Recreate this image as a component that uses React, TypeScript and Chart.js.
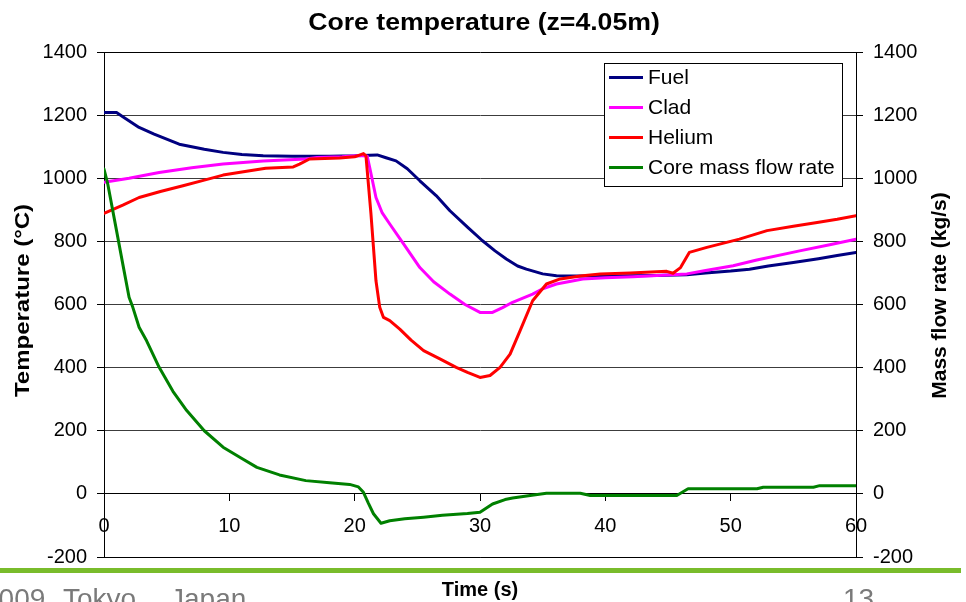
import React, { useEffect, useRef } from 'react';
import { Chart, registerables } from 'chart.js';

Chart.register(...registerables);

const FONT = '"Liberation Sans", Arial, Helvetica, sans-serif';

// ---- Data (time in s, temperature in °C, mass flow in kg/s) ----
const fuelTime = [0, 1, 1.5, 2.8, 4, 6, 8, 9.5, 11, 12.7, 15, 18, 20, 21.8, 22.5, 23.3, 24.2, 25.2, 26.5, 27.6, 29, 30.2, 31.2, 32.1, 33, 33.7, 35, 36.1, 38, 40, 42, 44, 46.5, 48, 50, 51.5, 53, 55, 57, 58.5, 60];
const fuelTemp = [1208, 1208, 1195, 1161, 1140, 1108, 1092, 1082, 1075, 1071, 1070, 1070, 1071, 1074, 1065, 1055, 1030, 992, 945, 897, 845, 802, 770, 744, 722, 712, 697, 691, 690, 690, 691, 692, 694, 700, 706, 712, 722, 733, 745, 755, 765];

const cladTime = [0, 2, 4.4, 7, 9.5, 12.7, 16.1, 17, 19, 20.5, 21, 21.2, 21.7, 22.2, 22.8, 23.9, 25.2, 26.3, 27.6, 28.8, 30, 31, 31.8, 32.6, 34.2, 35, 36.1, 38.2, 40, 42.2, 44.5, 46.5, 48, 50.2, 52, 55.5, 58, 60];
const cladTemp = [987, 1000, 1018, 1033, 1045, 1055, 1061, 1066, 1068, 1072, 1070, 1034, 939, 890, 855, 792, 717, 672, 633, 600, 575, 575, 590, 607, 633, 650, 665, 681, 685, 688, 693, 697, 708, 723, 740, 770, 790, 807];

const heliumTime = [0, 1.5, 2.8, 4.5, 6.3, 8, 9.5, 11, 12.9, 15.1, 15.6, 16.4, 18.8, 20, 20.7, 20.9, 21.3, 21.7, 22, 22.3, 22.8, 23.6, 24.5, 25.5, 26.8, 28.1, 29, 30, 30.8, 31.6, 32.4, 33.2, 34.2, 35.3, 36.4, 38, 39.6, 42, 44.9, 45.4, 46, 46.7, 48.1, 50.7, 52.9, 55, 56.9, 58.5, 60];
const heliumTemp = [889, 915, 939, 958, 976, 994, 1010, 1020, 1032, 1036, 1045, 1061, 1064, 1068, 1078, 1071, 887, 675, 591, 559, 549, 522, 487, 454, 428, 401, 385, 369, 375, 401, 443, 517, 612, 665, 681, 690, 697, 700, 705, 699, 717, 765, 781, 807, 834, 848, 860, 870, 881];

const flowTime = [0, 0.3, 1, 1.5, 2, 2.3, 2.8, 3.4, 4.4, 5.5, 6.6, 8, 9.5, 11, 12.2, 14, 16.1, 18, 19.6, 20.3, 20.7, 21.1, 21.5, 22.1, 22.8, 24, 25.5, 27, 29, 30, 31, 32, 32.6, 34, 35.3, 38, 38.8, 42, 45.7, 46.6, 52.1, 52.6, 56.6, 57.1, 60];
const flowRate = [1029, 982, 834, 728, 623, 591, 528, 485, 401, 325, 264, 200, 148, 112, 84, 60, 42, 35, 30, 22, 5, -30, -63, -93, -85, -79, -74, -68, -62, -58, -32, -18, -13, -5, 2, 2, -5, -5, -5, 16, 16, 21, 21, 26, 26];

const seriesLabels = ['Fuel', 'Clad', 'Helium', 'Core mass flow rate'];
const seriesColors = ['#000080', '#FF00FF', '#FF0000', '#008000'];

const xTicks = { min: 0, max: 60, step: 10 };
const yTicks = { min: -200, max: 1400, step: 200 };

const chartTitle = 'Core temperature (z=4.05m)';
const xTitle = 'Time (s)';
const yTitle = 'Temperature (°C)';
const y2Title = 'Mass flow rate (kg/s)';
const footerParts = ['2009,', 'Tokyo,', 'Japan'];
const pageText = '13';

const toPoints = (t: number[], v: number[]) => t.map((x, i) => ({ x, y: v[i] }));

function drawLabel(
  ctx: CanvasRenderingContext2D,
  text: string,
  x: number,
  y: number,
  font: string,
  stretch: number,
  vertical: boolean,
) {
  ctx.save();
  ctx.translate(x, y);
  if (vertical) ctx.rotate(-Math.PI / 2);
  ctx.scale(stretch, 1);
  ctx.font = font;
  ctx.fillStyle = '#000000';
  ctx.textAlign = 'center';
  ctx.textBaseline = 'middle';
  ctx.fillText(text, 0, 0);
  ctx.restore();
}

const boxLegendPlugin = {
  id: 'boxLegend',
  afterDraw(chart: any) {
    const ctx = chart.ctx as CanvasRenderingContext2D;
    const area = chart.chartArea;
    const x0 = area.right - 252;
    const y0 = area.top + 11;
    const w = 238;
    const h = 123;
    ctx.save();
    ctx.fillStyle = '#ffffff';
    ctx.fillRect(x0, y0, w, h);
    ctx.strokeStyle = '#000000';
    ctx.lineWidth = 1;
    ctx.strokeRect(Math.round(x0) + 0.5, Math.round(y0) + 0.5, w, h);
    chart.data.datasets.forEach((ds: any, i: number) => {
      const y = y0 + 14.5 + i * 30;
      ctx.strokeStyle = ds.borderColor;
      ctx.lineWidth = 3;
      ctx.beginPath();
      ctx.moveTo(x0 + 5, y);
      ctx.lineTo(x0 + 39, y);
      ctx.stroke();
      ctx.fillStyle = '#000000';
      ctx.font = `21px ${FONT}`;
      ctx.textBaseline = 'middle';
      ctx.textAlign = 'left';
      ctx.fillText(ds.label, x0 + 44, y + 1);
    });
    ctx.restore();
  },
};

const decorPlugin = {
  id: 'decor',
  afterDraw(chart: any) {
    const ctx = chart.ctx as CanvasRenderingContext2D;
    const area = chart.chartArea;
    const midY = (area.top + area.bottom) / 2;
    // titles
    drawLabel(ctx, chartTitle, 484, 23, `bold 24px ${FONT}`, 1.11, false);
    drawLabel(ctx, yTitle, 23, midY - 4, `bold 20px ${FONT}`, 1.2, true);
    drawLabel(ctx, y2Title, 940, midY - 9, `bold 21px ${FONT}`, 1.0, true);

    ctx.save();
    // slide decoration: green rule and footer text
    ctx.fillStyle = '#79BC2B';
    ctx.fillRect(0, 568, 961, 5);
    ctx.fillStyle = '#7a7a7a';
    ctx.font = `28px ${FONT}`;
    ctx.textBaseline = 'alphabetic';
    ctx.textAlign = 'left';
    ctx.fillText(footerParts[0], -17, 608);
    ctx.fillText(footerParts[1], 63, 608);
    ctx.fillText(footerParts[2], 170, 608);
    ctx.fillText(pageText, 843, 608);
    ctx.restore();
  },
};

export default function App() {
  const canvasRef = useRef<HTMLCanvasElement>(null);

  useEffect(() => {
    if (!canvasRef.current) return;
    const tickFont = { family: FONT, size: 20 };
    const titleFont = { family: FONT, size: 20, weight: 'bold' as const };
    const plain = (v: any) => String(v);
    const chart = new Chart(canvasRef.current, {
      type: 'line',
      data: {
        datasets: [
          { label: seriesLabels[0], data: toPoints(fuelTime, fuelTemp), borderColor: seriesColors[0], backgroundColor: seriesColors[0], yAxisID: 'y', xAxisID: 'x', order: 4 },
          { label: seriesLabels[1], data: toPoints(cladTime, cladTemp), borderColor: seriesColors[1], backgroundColor: seriesColors[1], yAxisID: 'y', xAxisID: 'x', order: 3 },
          { label: seriesLabels[2], data: toPoints(heliumTime, heliumTemp), borderColor: seriesColors[2], backgroundColor: seriesColors[2], yAxisID: 'y', xAxisID: 'x', order: 2 },
          { label: seriesLabels[3], data: toPoints(flowTime, flowRate), borderColor: seriesColors[3], backgroundColor: seriesColors[3], yAxisID: 'y2', xAxisID: 'x', order: 1 },
        ],
      },
      options: {
        animation: false,
        responsive: false,
        devicePixelRatio: 1,
        layout: { padding: { top: 52, left: 0, right: 0, bottom: 0 } },
        elements: {
          point: { radius: 0, hoverRadius: 0 },
          line: { borderWidth: 3, tension: 0, borderJoinStyle: 'round', borderCapStyle: 'round' },
        },
        plugins: {
          legend: { display: false },
          tooltip: { enabled: false },
          title: { display: false },
        },
        scales: {
          x: {
            type: 'linear',
            position: 'bottom',
            min: xTicks.min,
            max: xTicks.max,
            ticks: { display: false },
            grid: { display: false },
            border: { display: true, color: '#000000', width: 1 },
            title: { display: true, text: xTitle, color: '#000000', font: titleFont, padding: { top: 0, bottom: 0 } },
            afterFit(s: any) { s.height = 45; },
          },
          xZero: {
            type: 'linear',
            position: { y: 0 },
            min: xTicks.min,
            max: xTicks.max,
            ticks: { stepSize: xTicks.step, color: '#000000', font: tickFont, padding: 14, maxRotation: 0, autoSkip: false, callback: plain },
            grid: { drawOnChartArea: false, drawTicks: true, tickLength: 7, tickColor: '#000000' },
            border: { display: true, color: '#000000', width: 1 },
            afterFit(s: any) { s.height = 0; },
          },
          y: {
            type: 'linear',
            position: 'left',
            min: yTicks.min,
            max: yTicks.max,
            ticks: { stepSize: yTicks.step, color: '#000000', font: tickFont, padding: 10, callback: plain },
            grid: {
              color: (c: any) => (c.tick && c.tick.value === yTicks.max ? '#000000' : '#3c3c3c'),
              lineWidth: 1,
              tickColor: '#000000',
              tickLength: 7,
            },
            border: { display: true, color: '#000000', width: 1 },
            title: { display: false },
            afterFit(s: any) { s.width = 104; },
          },
          y2: {
            type: 'linear',
            position: 'right',
            min: yTicks.min,
            max: yTicks.max,
            ticks: { stepSize: yTicks.step, color: '#000000', font: tickFont, padding: 10, callback: plain },
            grid: { drawOnChartArea: false, tickColor: '#000000', tickLength: 7 },
            border: { display: true, color: '#000000', width: 1 },
            title: { display: false },
            afterFit(s: any) { s.width = 110; },
          },
        },
      },
      plugins: [boxLegendPlugin, decorPlugin],
    } as any);
    return () => chart.destroy();
  }, []);

  return (
    <div style={{ position: 'absolute', left: 0, top: 0, width: 966, height: 602, background: '#ffffff' }}>
      <canvas ref={canvasRef} width={966} height={602} style={{ display: 'block', width: 966, height: 602 }} />
    </div>
  );
}
